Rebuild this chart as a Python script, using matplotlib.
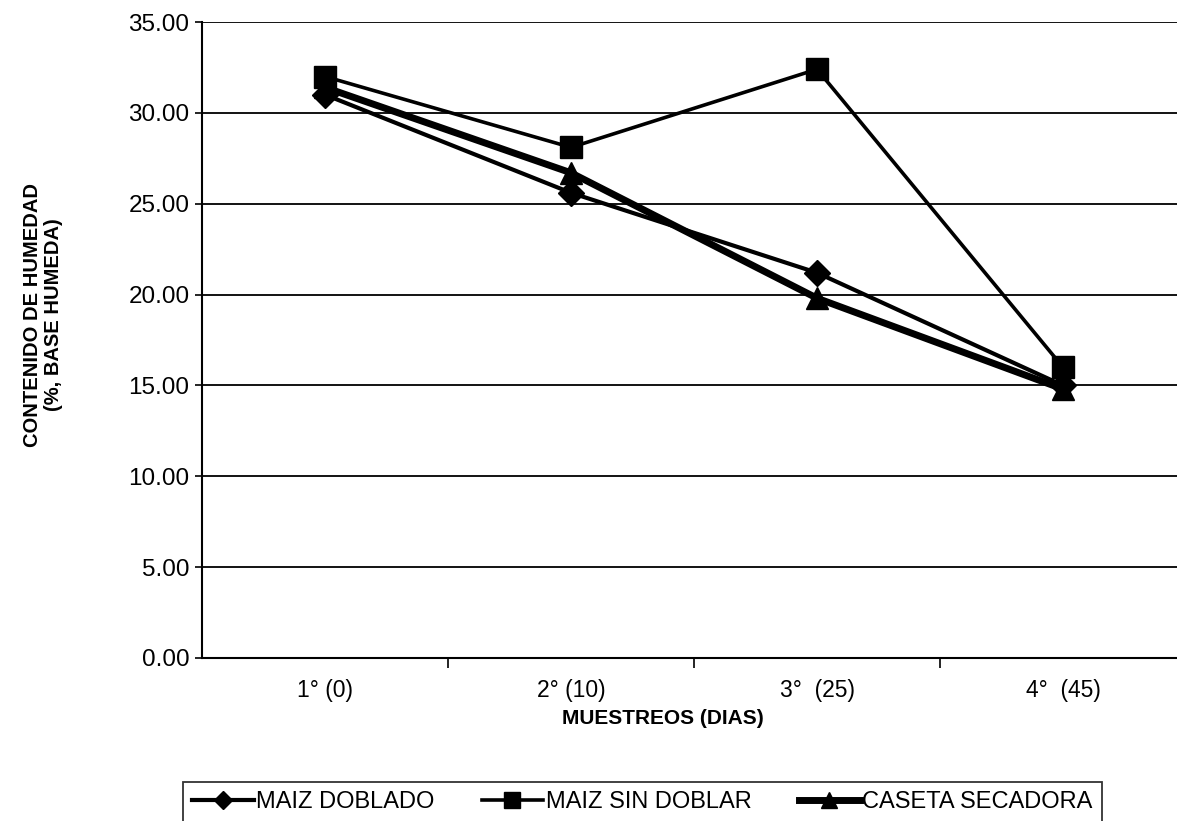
import numpy as np
import matplotlib
matplotlib.use("Agg")
import matplotlib.pyplot as plt

plt.rcParams['font.family'] = ['Liberation Sans', 'DejaVu Sans']

# Datos
muestreos = ["1° (0)", "2° (10)", "3°  (25)", "4°  (45)"]
maiz_doblado = [31.0, 25.6, 21.2, 15.0]
maiz_sin_doblar = [32.0, 28.1, 32.4, 16.0]
caseta_secadora = [31.4, 26.7, 19.8, 14.8]
y_ticks = [0, 5, 10, 15, 20, 25, 30, 35]

W, H = 1177, 821
fig = plt.figure(figsize=(W / 100, H / 100), dpi=100)
ax = fig.add_axes([202 / W, 1 - 658 / H, (1186 - 202) / W, (658 - 22) / H])

x = np.arange(len(muestreos))

ax.plot(x, maiz_doblado, color='black', lw=3, marker='D', ms=13,
        label='MAIZ DOBLADO', zorder=3)
ax.plot(x, maiz_sin_doblar, color='black', lw=2.6, marker='s', ms=16,
        label='MAIZ SIN DOBLAR', zorder=4)
ax.plot(x, caseta_secadora, color='black', lw=5, marker='^', ms=16,
        label='CASETA SECADORA', zorder=5)

ax.set_xlim(-0.5, len(muestreos) - 0.5)
ax.set_ylim(0, 35)

# grid horizontal
for yv in y_ticks[1:]:
    ax.axhline(yv, color='black', lw=1.3, zorder=1)

ax.set_yticks(y_ticks)
ax.set_yticklabels([f"{v:.2f}" for v in y_ticks], fontsize=17.5)
ax.tick_params(axis='y', length=5, width=1.2, pad=4, direction='out')

ax.set_xticks(x)
ax.set_xticklabels(muestreos, fontsize=16.5)
ax.set_xticks(np.arange(0.5, len(muestreos) - 0.5, 1), minor=True)
ax.tick_params(axis='x', which='major', length=0, pad=15)
ax.tick_params(axis='x', which='minor', length=7, width=1.2, direction='out')

for s in ['top', 'right']:
    ax.spines[s].set_visible(False)
ax.spines['left'].set_linewidth(1.5)
ax.spines['bottom'].set_linewidth(1.5)

fig.text(663 / W, 1 - 718 / H, "MUESTREOS (DIAS)", fontsize=15,
         fontweight='bold', ha='center', va='center')
fig.text(43 / W, 1 - 315 / H, "CONTENIDO DE HUMEDAD\n(%, BASE HUMEDA)",
         fontsize=14.5, fontweight='bold', rotation=90, ha='center',
         va='center', multialignment='center', linespacing=1.1)

leg = fig.legend(loc='upper left', bbox_to_anchor=(183 / W, 1 - 782 / H),
                 ncol=3, fontsize=17, frameon=True, fancybox=False,
                 handlelength=2.6, handletextpad=0.1, columnspacing=2.0,
                 borderpad=0.4, borderaxespad=0, markerscale=0.7)
leg.get_frame().set_edgecolor('black')
leg.get_frame().set_linewidth(1.3)

fig.savefig("out.png", dpi=100)
